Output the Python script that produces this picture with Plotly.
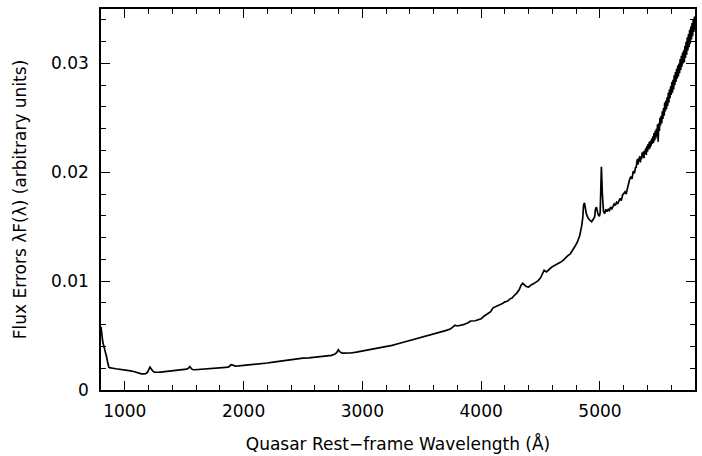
import plotly.graph_objects as go

# Rest-frame wavelength grid (Angstrom) and flux-error spectrum lambda*F(lambda)
wavelength_blue = [800, 805, 810, 815, 820, 828, 835, 842, 848, 855, 860, 866, 872, 880, 900,
                   925, 950, 975, 1000, 1030, 1050, 1075, 1100, 1120, 1140, 1160, 1175, 1190,
                   1200, 1212, 1222, 1235, 1250, 1265, 1285, 1300, 1325, 1350, 1375, 1400,
                   1425, 1450, 1475, 1500, 1520, 1535, 1548, 1558, 1570, 1590, 1620, 1650,
                   1700, 1750, 1800, 1850, 1875, 1895, 1910, 1930, 1960, 2000, 2050, 2100,
                   2150, 2200, 2250, 2300, 2350, 2400, 2450, 2500, 2550, 2600, 2650, 2700,
                   2740, 2770, 2785, 2798, 2812, 2830, 2860, 2900, 2950, 3000, 3050, 3100,
                   3150, 3200, 3250, 3300, 3350, 3400, 3450, 3500, 3550, 3600, 3650, 3700,
                   3740, 3760, 3780, 3800, 3850, 3890, 3910, 3950]
flux_err_blue = [0.0058, 0.0052, 0.0047, 0.0044, 0.0042, 0.0039, 0.0036, 0.0033, 0.0030, 0.0026,
                 0.0023, 0.0021, 0.00205, 0.00202, 0.00200, 0.00195, 0.00192, 0.00188, 0.00186,
                 0.00183, 0.00175, 0.00170, 0.00162, 0.00155, 0.00148, 0.00149, 0.00150, 0.00160,
                 0.00180, 0.00210, 0.00195, 0.00175, 0.00164, 0.00162, 0.00163, 0.00165, 0.00168,
                 0.00170, 0.00174, 0.00178, 0.00177, 0.00180, 0.00183, 0.00186, 0.00192, 0.00200,
                 0.00215, 0.00200, 0.00188, 0.00186, 0.00188, 0.00190, 0.00194, 0.00198, 0.00203,
                 0.00207, 0.00212, 0.00232, 0.00228, 0.00220, 0.00222, 0.00226, 0.00230, 0.00234,
                 0.00240, 0.00248, 0.00256, 0.00264, 0.00270, 0.00278, 0.00285, 0.00292, 0.00296,
                 0.00300, 0.00304, 0.00310, 0.00318, 0.00330, 0.00345, 0.00370, 0.00350, 0.00338,
                 0.00336, 0.00340, 0.00348, 0.00358, 0.00366, 0.00378, 0.00388, 0.00398, 0.00410,
                 0.00425, 0.00440, 0.00452, 0.00465, 0.00480, 0.00495, 0.00510, 0.00528, 0.00545,
                 0.00560, 0.00576, 0.00595, 0.00588, 0.00600, 0.00618, 0.00634, 0.00636, 0.00655]

# Optical part: Balmer and [O III] lines, growing noise toward the red end
wavelength_mid = [4000, 4020, 4040, 4060, 4080, 4100, 4120, 4140, 4160, 4180, 4200, 4220, 4240,
                  4260, 4280, 4300, 4320, 4335, 4350, 4365, 4380, 4400, 4420, 4440, 4460, 4480,
                  4500, 4515, 4530, 4550, 4570, 4590, 4610, 4630, 4650, 4670, 4690, 4710, 4730,
                  4750, 4770, 4790, 4810, 4830, 4845, 4855, 4862, 4870, 4885, 4900, 4915, 4930,
                  4945, 4955, 4962, 4970, 4985, 4995, 5002, 5007, 5012, 5020, 5030, 5040, 5050,
                  5060, 5070, 5080, 5090, 5100, 5110, 5120, 5130, 5140, 5150, 5160, 5170, 5180,
                  5190, 5200, 5210, 5220, 5230, 5240, 5250, 5260, 5270, 5280, 5290]
flux_err_mid = [0.00675, 0.00690, 0.00700, 0.00720, 0.00755, 0.00765, 0.00770, 0.00785, 0.00795,
                0.00810, 0.00815, 0.00835, 0.00845, 0.00870, 0.00890, 0.00920, 0.00960, 0.00980,
                0.00960, 0.00950, 0.00945, 0.00965, 0.00975, 0.00990, 0.01005, 0.01030, 0.01060,
                0.01100, 0.01085, 0.01110, 0.01125, 0.01140, 0.01150, 0.01165, 0.01175, 0.01190,
                0.01215, 0.01235, 0.01250, 0.01280, 0.01320, 0.01360, 0.01420, 0.01500, 0.01580,
                0.01700, 0.01720, 0.01620, 0.01580, 0.01560, 0.01545, 0.01570, 0.01590, 0.01660,
                0.01680, 0.01610, 0.01595, 0.01630, 0.01900, 0.02050, 0.01800, 0.01640, 0.01620,
                0.01660, 0.01640, 0.01660, 0.01650, 0.01680, 0.01665, 0.01690, 0.01710, 0.01695,
                0.01725, 0.01715, 0.01745, 0.01760, 0.01740, 0.01790, 0.01805, 0.01820, 0.01800,
                0.01850, 0.01880, 0.01935, 0.01960, 0.01940, 0.02010, 0.01990, 0.02050, 0.02040]

wavelength_red = [5300, 5305, 5310, 5315, 5320, 5325, 5330, 5335, 5340, 5345, 5350, 5355, 5360,
                  5365, 5370, 5375, 5380, 5385, 5390, 5395, 5400, 5405, 5410, 5415, 5420, 5425,
                  5430, 5435, 5440, 5445, 5450, 5455, 5460, 5465, 5470, 5475, 5480, 5485, 5490,
                  5495, 5500, 5505, 5510, 5515, 5520, 5525, 5530, 5535, 5540, 5545, 5550, 5555,
                  5560, 5565, 5570, 5575, 5580, 5585, 5590, 5595, 5600, 5605, 5610, 5615, 5620,
                  5625, 5630, 5635, 5640, 5645, 5650, 5655, 5660, 5665, 5670, 5675, 5680, 5685,
                  5690, 5695, 5700, 5705, 5710, 5715, 5720, 5725, 5730, 5735, 5740, 5745, 5750,
                  5755, 5760, 5765, 5770, 5775, 5780, 5785, 5790, 5795, 5800]
flux_err_red = [0.0209, 0.0212, 0.0207, 0.0213, 0.0210, 0.0215, 0.0209, 0.0214, 0.0212, 0.0218,
                0.0214, 0.0219, 0.0213, 0.0220, 0.0217, 0.0222, 0.0216, 0.0224, 0.0219, 0.0226,
                0.0221, 0.0228, 0.0222, 0.0229, 0.0224, 0.0231, 0.0226, 0.0233, 0.0227, 0.0236,
                0.0229, 0.0238, 0.0231, 0.0240, 0.0233, 0.0244, 0.0228, 0.0245, 0.0238, 0.0250,
                0.0243, 0.0252, 0.0245, 0.0256, 0.0249, 0.0259, 0.0252, 0.0264, 0.0256, 0.0266,
                0.0258, 0.0269, 0.0261, 0.0273, 0.0264, 0.0276, 0.0268, 0.0279, 0.0271, 0.0283,
                0.0273, 0.0285, 0.0276, 0.0289, 0.0280, 0.0292, 0.0283, 0.0295, 0.0286, 0.0298,
                0.0288, 0.0300, 0.0291, 0.0304, 0.0294, 0.0307, 0.0297, 0.0310, 0.0300, 0.0312,
                0.0301, 0.0316, 0.0305, 0.0320, 0.0308, 0.0324, 0.0312, 0.0327, 0.0315, 0.0331,
                0.0318, 0.0334, 0.0322, 0.0337, 0.0325, 0.0340, 0.0329, 0.0343, 0.0331, 0.0345,
                0.0334]

x_tick_values = [1000, 2000, 3000, 4000, 5000]
x_tick_labels = ["1000", "2000", "3000", "4000", "5000"]
y_tick_values = [0, 0.01, 0.02, 0.03]
y_tick_labels = ["0", "0.01", "0.02", "0.03"]

wavelength = wavelength_blue + wavelength_mid + wavelength_red
flux_err = flux_err_blue + flux_err_mid + flux_err_red

fig = go.Figure()
fig.add_trace(go.Scatter(
    x=wavelength, y=flux_err, mode="lines",
    line=dict(color="black", width=1.7),
    showlegend=False, hoverinfo="skip",
))

font = dict(family="DejaVu Sans", size=17, color="black")

axis_common = dict(
    showgrid=False, zeroline=False, showline=True, linecolor="black", linewidth=1.5,
    mirror="allticks", ticks="inside", ticklen=9, tickwidth=1.2, tickcolor="black",
    tickfont=font,
)

fig.update_layout(
    width=702, height=456,
    margin=dict(l=101, r=5, t=9, b=64),
    paper_bgcolor="white", plot_bgcolor="white",
    font=font,
    xaxis=dict(
        range=[800, 5800], tickvals=x_tick_values, ticktext=x_tick_labels,
        minor=dict(ticks="inside", ticklen=5, dtick=200, tick0=0, tickcolor="black", tickwidth=1.2),
        title=dict(text="Quasar Rest−frame Wavelength (Å)", font=font, standoff=18),
        ticklabelstandoff=5,
        **axis_common,
    ),
    yaxis=dict(
        range=[0, 0.035], tickvals=y_tick_values, ticktext=y_tick_labels,
        minor=dict(ticks="inside", ticklen=5, dtick=0.002, tick0=0, tickcolor="black", tickwidth=1.2),
        title=dict(text="Flux Errors λF(λ) (arbitrary units)", font=font, standoff=20),
        ticklabelstandoff=7,
        **axis_common,
    ),
)

fig.write_html("out.html")
